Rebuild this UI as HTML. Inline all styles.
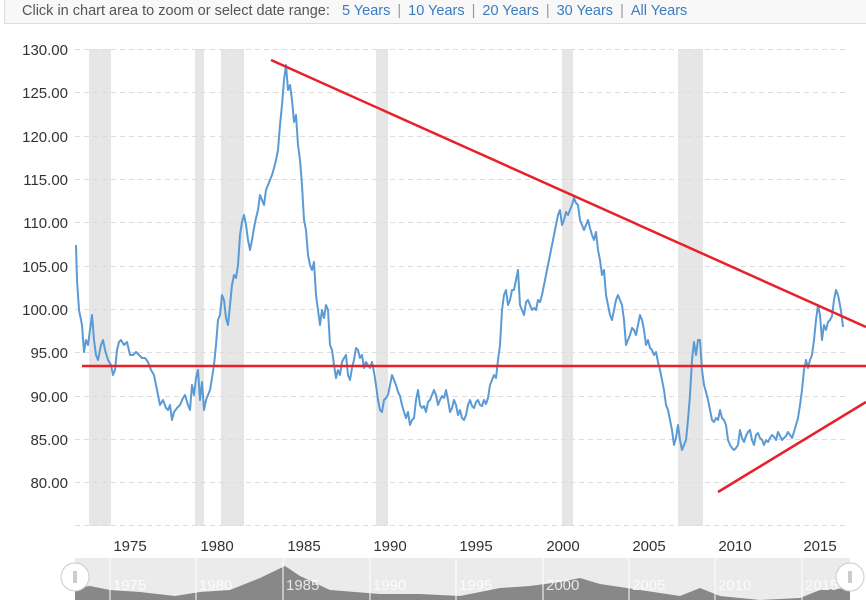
<!DOCTYPE html>
<html><head><meta charset="utf-8"><style>
body{margin:0;width:866px;height:600px;overflow:hidden;background:#fff;font-family:"Liberation Sans",Arial,sans-serif}
.top{position:absolute;left:4px;top:0;width:870px;height:24px;border:1px solid #ddd;border-top:none;background:#f8f8f8;font-size:14.5px;color:#555;line-height:22px;padding-left:17px;box-sizing:border-box}
.top a{color:#3a7cc0;text-decoration:none}
.top span.s{color:#999;margin:0 7px}
</style></head><body>
<div class="top">Click in chart area to zoom or select date range:&nbsp;&nbsp; <a>5 Years</a><span class="s">|</span><a>10 Years</a><span class="s">|</span><a>20 Years</a><span class="s">|</span><a>30 Years</a><span class="s">|</span><a>All Years</a></div>
<svg width="866" height="600" style="position:absolute;left:0;top:0" xmlns="http://www.w3.org/2000/svg">
<g fill="#e6e6e6">
<rect x="89" y="49" width="22" height="477"/><rect x="195" y="49" width="9" height="477"/><rect x="221" y="49" width="23" height="477"/><rect x="376" y="49" width="12" height="477"/><rect x="562" y="49" width="11" height="477"/><rect x="678" y="49" width="25" height="477"/>
</g>
<g stroke="#ddd" stroke-dasharray="5,4" stroke-width="1">
<line x1="75" x2="845" y1="49.5" y2="49.5"/><line x1="75" x2="845" y1="92.5" y2="92.5"/><line x1="75" x2="845" y1="136.5" y2="136.5"/><line x1="75" x2="845" y1="179.5" y2="179.5"/><line x1="75" x2="845" y1="222.5" y2="222.5"/><line x1="75" x2="845" y1="266.5" y2="266.5"/><line x1="75" x2="845" y1="309.5" y2="309.5"/><line x1="75" x2="845" y1="352.5" y2="352.5"/><line x1="75" x2="845" y1="396.5" y2="396.5"/><line x1="75" x2="845" y1="439.5" y2="439.5"/><line x1="75" x2="845" y1="482.5" y2="482.5"/><line x1="75" x2="845" y1="525.5" y2="525.5"/>
</g>
<g font-size="15" fill="#333" text-anchor="end">
<text x="68" y="55">130.00</text><text x="68" y="98">125.00</text><text x="68" y="142">120.00</text><text x="68" y="185">115.00</text><text x="68" y="228">110.00</text><text x="68" y="272">105.00</text><text x="68" y="315">100.00</text><text x="68" y="358">95.00</text><text x="68" y="402">90.00</text><text x="68" y="445">85.00</text><text x="68" y="488">80.00</text>
</g>
<g font-size="15" fill="#333" text-anchor="middle">
<text x="130" y="551">1975</text><text x="217" y="551">1980</text><text x="304" y="551">1985</text><text x="390" y="551">1990</text><text x="476" y="551">1995</text><text x="563" y="551">2000</text><text x="649" y="551">2005</text><text x="735" y="551">2010</text><text x="820" y="551">2015</text>
</g>
<polyline fill="none" stroke="#5b9bd5" stroke-width="2" stroke-linejoin="round" points="76,245 77,280 79,310 82,325 84,352 86,340 88,345 90,330 92,315 94,340 96,355 98,360 101,345 103,340 105,350 108,360 111,365 113,375 115,370 117,350 119,342 121,340 124,345 127,342 130,355 133,355 136,352 139,355 142,358 145,358 148,362 151,370 154,375 157,390 160,405 163,400 166,408 168,410 170,405 172,420 174,412 177,408 180,405 183,398 185,395 188,405 190,410 192,385 194,395 196,378 198,370 200,400 202,382 204,410 206,400 208,395 210,390 212,378 214,365 216,345 218,320 220,315 222,295 224,300 226,318 228,325 230,305 232,285 234,275 236,278 238,265 240,235 242,222 244,215 246,225 248,240 250,250 252,240 254,228 256,218 258,210 260,195 262,200 264,205 266,190 268,185 270,180 272,175 274,168 276,160 278,150 280,125 282,105 284,80 286,65 288,90 290,85 292,100 294,122 296,115 298,145 300,160 302,185 304,220 306,230 308,255 310,265 312,270 314,262 316,295 318,310 320,325 322,310 324,318 326,305 328,310 330,345 332,350 334,365 336,378 338,370 340,375 342,362 344,358 346,355 348,375 350,380 352,368 354,360 356,348 358,350 360,358 362,355 364,368 366,362 368,365 370,368 372,362 374,372 376,385 378,400 380,410 382,412 384,400 386,398 388,395 390,385 392,375 394,380 396,385 398,392 400,396 402,405 404,412 406,418 408,412 410,425 412,420 414,418 416,400 418,390 420,405 422,408 424,406 426,412 428,402 430,400 432,395 434,390 436,395 438,405 440,400 442,396 444,398 446,390 448,400 450,412 452,408 454,400 456,405 458,415 460,410 462,418 464,420 466,415 468,405 470,400 472,406 474,408 476,402 478,400 480,405 482,406 484,400 486,404 488,398 490,385 492,380 494,375 496,378 498,360 500,345 502,310 504,295 506,290 508,305 510,300 512,290 514,290 516,280 518,270 520,305 522,310 524,315 526,302 528,300 530,305 532,310 534,308 536,310 538,300 540,302 542,295 544,285 546,275 548,265 550,255 552,245 554,235 556,225 558,215 560,210 562,225 564,220 566,212 568,215 570,210 572,205 574,198 576,203 578,205 580,220 582,225 584,230 586,225 588,220 590,228 592,235 594,240 596,232 598,250 600,260 602,275 604,270 606,295 608,305 610,315 612,320 614,310 616,300 618,295 620,300 622,305 624,320 626,345 628,340 630,335 632,328 634,330 636,335 638,325 640,315 642,320 644,330 646,345 648,340 650,348 652,350 654,355 656,352 658,362 660,370 662,380 664,390 666,405 668,410 670,420 672,430 674,445 676,438 678,425 680,440 682,450 684,445 686,440 688,420 690,395 692,360 694,342 696,355 698,340 700,340 702,370 704,385 706,392 708,400 710,410 712,420 714,422 716,418 718,420 720,410 722,418 724,420 726,425 728,440 730,445 732,448 734,450 736,448 738,445 740,430 742,438 744,442 746,436 748,432 750,430 752,440 754,445 756,435 758,433 760,438 762,440 764,445 766,440 768,442 770,438 772,435 774,437 776,440 778,432 780,436 782,440 784,438 786,436 788,432 790,435 792,438 794,432 796,425 798,418 800,405 802,390 804,370 806,360 808,368 810,360 812,355 814,340 816,320 818,305 820,315 822,340 824,325 826,330 828,322 830,320 832,316 834,300 836,290 838,295 840,305 842,318 843,327"/>
<g stroke="#e8202a" stroke-width="2.5">
<line x1="271" y1="60" x2="866" y2="327"/>
<line x1="82" y1="366" x2="866" y2="366"/>
<line x1="718" y1="492" x2="866" y2="402"/>
</g>
<rect x="75" y="558" width="775" height="42" fill="#ebebeb"/>
<polygon fill="#888" points="75,600 75,588 90,586 110,590 140,592 175,596 200,592 230,590 260,578 285,566 300,576 330,590 380,594 420,594 460,596 500,588 530,586 560,582 580,578 600,584 640,590 680,596 700,588 720,596 760,600 800,598 820,590 850,588 850,600"/>
<g stroke="#fff" stroke-width="1"><line x1="110" y1="558" x2="110" y2="600"/><line x1="196" y1="558" x2="196" y2="600"/><line x1="283" y1="558" x2="283" y2="600"/><line x1="370" y1="558" x2="370" y2="600"/><line x1="456" y1="558" x2="456" y2="600"/><line x1="543" y1="558" x2="543" y2="600"/><line x1="629" y1="558" x2="629" y2="600"/><line x1="715" y1="558" x2="715" y2="600"/><line x1="802" y1="558" x2="802" y2="600"/></g>
<g font-size="15" fill="#fff" opacity="0.8"><text x="113" y="590">1975</text><text x="199" y="590">1980</text><text x="286" y="590">1985</text><text x="373" y="590">1990</text><text x="459" y="590">1995</text><text x="546" y="590">2000</text><text x="632" y="590">2005</text><text x="718" y="590">2010</text><text x="805" y="590">2015</text></g>
<circle cx="75" cy="577" r="14" fill="#fff" stroke="#ccc"/><line x1="74" y1="571" x2="74" y2="583" stroke="#999"/><line x1="76" y1="571" x2="76" y2="583" stroke="#999"/>
<circle cx="850" cy="577" r="14" fill="#fff" stroke="#ccc"/><line x1="849" y1="571" x2="849" y2="583" stroke="#999"/><line x1="851" y1="571" x2="851" y2="583" stroke="#999"/>
</svg>
</body></html>
